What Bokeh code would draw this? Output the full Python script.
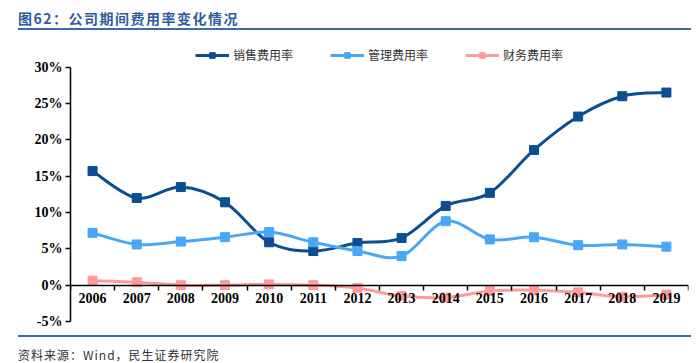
import numpy as np
from bokeh.plotting import figure
from bokeh.models import (Range1d, FixedTicker, LinearAxis, Legend, LegendItem, Div,
                          PrintfTickFormatter, ColumnDataSource, CustomJSTickFormatter)
from bokeh.layouts import column
from bokeh.embed import file_html
from bokeh.resources import INLINE

# ---- data ----
years = ["2006", "2007", "2008", "2009", "2010", "2011", "2012",
         "2013", "2014", "2015", "2016", "2017", "2018", "2019"]
sales_rate = [15.7, 12.0, 13.5, 11.4, 5.9, 4.7, 5.8, 6.5, 10.9, 12.7, 18.6, 23.2, 26.0, 26.5]
mgmt_rate = [7.2, 5.6, 6.0, 6.6, 7.3, 5.9, 4.7, 4.0, 8.8, 6.3, 6.6, 5.5, 5.6, 5.3]
fin_rate = [0.6, 0.4, 0.0, 0.0, 0.1, 0.0, -0.4, -1.5, -1.7, -0.8, -0.7, -1.0, -1.6, -1.3]
series_names = ["销售费用率", "管理费用率", "财务费用率"]
series_colors = ["#0B4E92", "#49A7F7", "#FF9B9B"]
y_ticks = [-5, 0, 5, 10, 15, 20, 25, 30]

TICK_FONT = "Liberation Serif"
CJK_FONT = "Noto Sans CJK SC"

xs = np.arange(len(years)) + 0.5


def bezier_source(x, y, t=1.0):
    x = np.asarray(x, float)
    y = np.asarray(y, float)
    px = np.concatenate([[x[0]], x, [x[-1]]])
    py = np.concatenate([[y[0]], y, [y[-1]]])
    n = len(x)
    d = dict(x0=[], y0=[], x1=[], y1=[], cx0=[], cy0=[], cx1=[], cy1=[])
    for i in range(n - 1):
        p0x, p0y = px[i], py[i]
        p1x, p1y = px[i + 1], py[i + 1]
        p2x, p2y = px[i + 2], py[i + 2]
        p3x, p3y = px[i + 3], py[i + 3]
        d["x0"].append(p1x); d["y0"].append(p1y)
        d["x1"].append(p2x); d["y1"].append(p2y)
        d["cx0"].append(p1x + (p2x - p0x) / 6 * t)
        d["cy0"].append(p1y + (p2y - p0y) / 6 * t)
        d["cx1"].append(p2x - (p3x - p1x) / 6 * t)
        d["cy1"].append(p2y - (p3y - p1y) / 6 * t)
    return ColumnDataSource(d)


p = figure(width=691, height=305, output_backend="svg", toolbar_location=None,
           x_range=Range1d(0, 14), y_range=Range1d(-5, 32.84),
           min_border_left=70, min_border_right=3, min_border_top=16, min_border_bottom=14,
           x_axis_location=None, y_axis_location=None)
p.grid.visible = False
p.outline_line_color = None
p.background_fill_color = "white"
p.border_fill_color = "white"

# y axis
yax = LinearAxis(ticker=FixedTicker(ticks=y_ticks), formatter=PrintfTickFormatter(format="%d%%"),
                 bounds=(-5, 30))
yax.major_tick_out = 5
yax.major_tick_in = 0
yax.minor_tick_line_color = None
yax.axis_line_width = 1.5
yax.axis_line_color = "black"
yax.major_tick_line_color = "black"
yax.major_tick_line_width = 1.5
yax.major_label_text_font = TICK_FONT
yax.major_label_text_font_style = "bold"
yax.major_label_text_font_size = "14px"
yax.major_label_text_color = "black"
yax.major_label_standoff = 3
p.add_layout(yax, "left")

# x axis line with boundary ticks at y=0
xax = LinearAxis(ticker=FixedTicker(ticks=list(range(len(years) + 1))), fixed_location=0,
                 formatter=CustomJSTickFormatter(code="return ''"))
xax.major_tick_out = 5
xax.major_tick_in = 0
xax.minor_tick_line_color = None
xax.axis_line_width = 1.5
xax.axis_line_color = "black"
xax.major_tick_line_color = "black"
xax.major_tick_line_width = 1.5
p.add_layout(xax, "below")

# x labels at category centres
xlab = LinearAxis(ticker=FixedTicker(ticks=list(xs)), fixed_location=0,
                  formatter=CustomJSTickFormatter(args=dict(labels=years),
                                                  code="return labels[Math.floor(tick)]"))
xlab.axis_line_color = None
xlab.major_tick_line_color = None
xlab.minor_tick_line_color = None
xlab.major_tick_out = 0
xlab.major_tick_in = 0
xlab.major_label_standoff = 8
xlab.major_label_text_font = TICK_FONT
xlab.major_label_text_font_style = "bold"
xlab.major_label_text_font_size = "14px"
xlab.major_label_text_color = "black"
p.add_layout(xlab, "below")

items = []
for name, vals, col in zip(series_names, [sales_rate, mgmt_rate, fin_rate], series_colors):
    src = bezier_source(xs, vals)
    br = p.bezier(x0="x0", y0="y0", x1="x1", y1="y1", cx0="cx0", cy0="cy0", cx1="cx1", cy1="cy1",
                  source=src, line_color=col, line_width=3)
    sr = p.scatter(xs, vals, marker="square", size=9, fill_color=col, line_color=col)
    items.append(LegendItem(label=name, renderers=[br, sr], index=0))

legend = Legend(items=items, location="top_center", orientation="horizontal")
legend.border_line_color = None
legend.background_fill_alpha = 0
legend.glyph_width = 34
legend.glyph_height = 14
legend.spacing = 37
legend.padding = 4
legend.margin = 0
legend.label_standoff = 4
legend.label_text_font = CJK_FONT
legend.label_text_font_size = "12px"
legend.label_text_color = "#333333"
p.add_layout(legend)

title = Div(text="图62：公司期间费用率变化情况", width=673, height=22, margin=(8, 0, 0, 18),
            styles={"font-family": CJK_FONT, "font-size": "14px", "font-weight": "bold",
                    "color": "#2E5C9E", "letter-spacing": "1.5px", "line-height": "20px",
                    "border-bottom": "2px solid #3D6AAD", "box-sizing": "border-box"})
source = Div(text="资料来源：Wind，民生证券研究院", width=673, height=20, margin=(0, 0, 0, 18),
             styles={"font-family": CJK_FONT, "font-size": "12px", "color": "#333333",
                     "letter-spacing": "1px", "line-height": "16px", "padding-top": "10px",
                     "border-top": "2px solid #3D6AAD", "box-sizing": "border-box",
                     "overflow": "visible"})

layout = column(title, p, source, spacing=0)

open("out.html", "w").write(file_html(layout, INLINE))
